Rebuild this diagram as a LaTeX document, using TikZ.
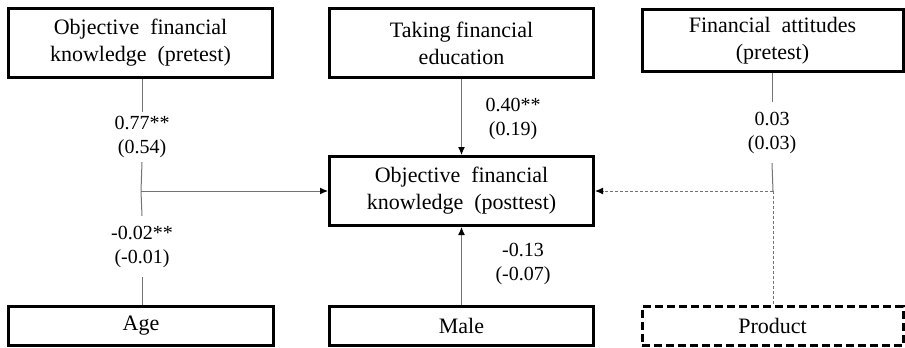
\documentclass[tikz,border=0pt]{standalone}
\usepackage{fontspec}
\setmainfont{Liberation Serif}
\usetikzlibrary{arrows.meta}
\begin{document}
\begin{tikzpicture}[x=1pt,y=-1pt,
  vbox/.style={draw=black,line width=3pt,inner sep=0pt,align=center,
    font=\fontsize{22}{27}\selectfont},
  coef/.style={inner sep=0pt,align=center,font=\fontsize{20}{24}\selectfont},
  conn/.style={draw=black!55,line width=1pt},
  arr/.style={conn,-{Latex[length=8pt,width=7pt,color=black]}},
  dconn/.style={conn,dash pattern=on 3pt off 2pt},
]
\useasboundingbox (0,0) rectangle (905,348);
% boxes
\node[vbox,minimum width=264pt,minimum height=69pt] (ofkpre) at (140.5,43) {Objective\ \ financial\\knowledge\ \ (pretest)};
\node[vbox,minimum width=264pt,minimum height=69pt] (tfe) at (461.5,43) {Taking financial\\education};
\node[vbox,minimum width=261pt,minimum height=62pt] (fa) at (772.5,40.5) {Financial\ \ attitudes\\(pretest)};
\node[vbox,minimum width=264pt,minimum height=69pt] (post) at (461.5,191) {Objective\ \ financial\\knowledge\ \ (posttest)};
\node[vbox,minimum width=265pt,minimum height=39pt] (age) at (141,326) {Age};
\node[vbox,minimum width=264pt,minimum height=39pt] (male) at (461.5,326) {Male};
\node[vbox,dash pattern=on 8pt off 4pt,minimum width=261pt,minimum height=39pt] (prod) at (772.5,326) {Product};
% coefficient labels
\node[coef,minimum height=50pt] (c1) at (142,137) {0.77**\\(0.54)};
\node[coef,minimum height=61pt] (c2) at (142,246.5) {-0.02**\\(-0.01)};
\node[coef,minimum height=61pt] (c3) at (772,132.5) {0.03\\(0.03)};
\node[coef] (c4) at (513,119) {0.40**\\(0.19)};
\node[coef] (c5) at (523,264) {-0.13\\(-0.07)};
% junctions
\coordinate (j1) at (141,191);
\coordinate (j2) at (773,191);
% connectors
\draw[conn] (ofkpre.south -| c1.north) -- (c1.north);
\draw[conn] (c1.south) -- (j1);
\draw[conn] (age.north -| c2.south) -- (c2.south);
\draw[conn] (c2.north) -- (j1);
\draw[arr] (j1) -- (post.west);
\draw[arr] (tfe.south) -- (post.north);
\draw[arr] (male.north) -- (post.south);
\draw[conn] (fa.south -| c3.north) -- (c3.north);
\draw[conn] (c3.south) -- (j2);
\draw[dconn,-{Latex[length=8pt,width=7pt,color=black]}] (j2) -- (post.east);
\draw[dconn] (j2) -- (prod.north -| j2);
\end{tikzpicture}
\end{document}
